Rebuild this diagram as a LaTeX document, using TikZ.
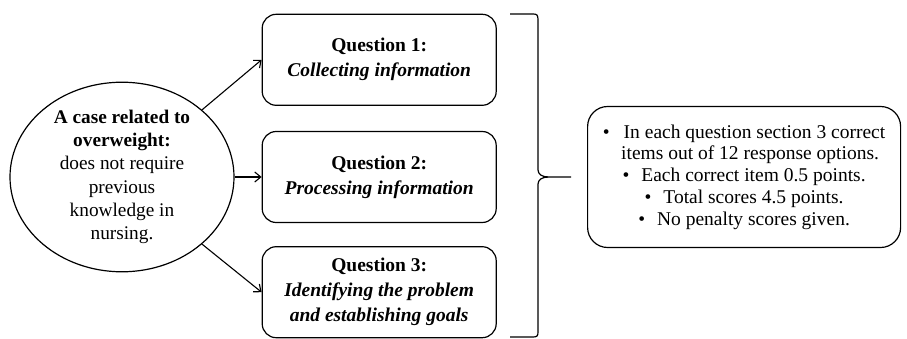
\documentclass[tikz,border=0pt]{standalone}
\usepackage{fontspec}
\setmainfont{Liberation Serif}
\usepackage{tikz}
\usetikzlibrary{shapes,arrows.meta,positioning}

\begin{document}
\begin{tikzpicture}[
    x=1pt, y=1pt,
    node distance=25pt,
    casenode/.style={ellipse, draw, line width=1.2pt, minimum width=224pt, minimum height=174pt, align=center, inner sep=0pt, font=\fontsize{19.3}{23.3}\selectfont},
    qbox/.style={rectangle, rounded corners=14pt, draw, line width=1.2pt, minimum width=234pt, minimum height=91pt, align=center, font=\fontsize{19.5}{25}\selectfont},
    infobox/.style={rectangle, rounded corners=20pt, draw, line width=1.2pt, minimum width=313pt, minimum height=141pt, align=center, inner sep=0pt, font=\fontsize{19.5}{21.7}\selectfont},
    arrow/.style={-{Straight Barb[length=6pt,width=10pt]}, line width=1.1pt},
    brace/.style={line width=1.2pt}
]
    \useasboundingbox (0,0) rectangle (907,-339);

    % The case
    \node[casenode] (case) at (122,-177) {\textbf{A case related to}\\\textbf{overweight:}\\does not require\\previous\\knowledge in\\nursing.};

    % Questions
    \node[qbox, right=27pt of case] (q2) {\textbf{Question 2:}\\\textbf{\textit{Processing information}}};
    \node[qbox, above=of q2] (q1) {\textbf{Question 1:}\\\textbf{\textit{Collecting information}}};
    \node[qbox, below=23pt of q2] (q3) {\textbf{Question 3:}\\\textbf{\textit{Identifying the problem}}\\\textbf{\textit{and establishing goals}}};

    % Arrows
    \draw[arrow] (case.40) -- (q1.west);
    \draw[arrow] (case) -- (q2);
    \draw[arrow] (case.-40) -- (q3.west);

    % Brace
    \coordinate (tip) at (571,-177);
    \draw[brace] (510,-14) -- (533,-14) .. controls (537,-14) and (538,-15) .. (538,-20)
        -- (538,-170) .. controls (538,-174) and (542,-177) .. (548,-177) -- (tip);
    \draw[brace] (548,-177) .. controls (542,-177) and (538,-180) .. (538,-184)
        -- (538,-332) .. controls (538,-336) and (537,-337) .. (533,-337) -- (510,-337);

    % Scoring
    \node[infobox, right=16pt of tip] (info) {%
        •\hspace{14pt}In each question section 3 correct\\
        \hspace{12pt}items out of 12 response options.\\
        •\hspace{12pt}Each correct item 0.5 points.\\
        •\hspace{12pt}Total scores 4.5 points.\\
        •\hspace{12pt}No penalty scores given.};

\end{tikzpicture}
\end{document}
